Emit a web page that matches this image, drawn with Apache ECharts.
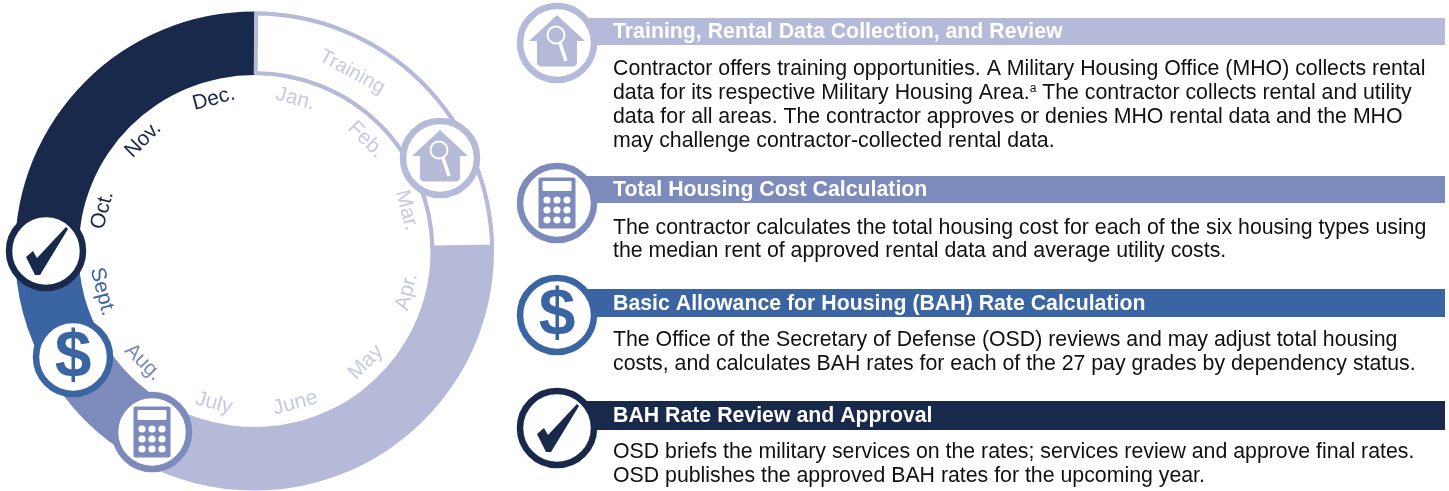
<!DOCTYPE html>
<html><head><meta charset="utf-8"><style>html,body{margin:0;padding:0;background:#fff}#c{width:1449px;height:491px}</style>
<script src="https://cdn.jsdelivr.net/npm/echarts@6/dist/echarts.min.js"></script></head>
<body><div id="c"></div><script>
const months = ['Jan.','Feb.','Mar.','Apr.','May','June','July','Aug.','Sept.','Oct.','Nov.','Dec.'];
const stages = ['Training','Rental data collection and review','Total housing cost calculation','BAH rate calculation','BAH rate review and approval'];
const stageMonths = [3,4,1,1,3];
const stageColors = ['#B5BAD9','#B5BAD9','#7C8BBC','#3A65A2','#19294B'];
const sectionTitles = ['Training, Rental Data Collection, and Review','Total Housing Cost Calculation','Basic Allowance for Housing (BAH) Rate Calculation','BAH Rate Review and Approval'];
const sectionBodies = [
 ['Contractor offers training opportunities. A Military Housing Office (MHO) collects rental','data for its respective Military Housing Area.{sup|a} The contractor collects rental and utility','data for all areas. The contractor approves or denies MHO rental data and the MHO','may challenge contractor-collected rental data.'],
 ['The contractor calculates the total housing cost for each of the six housing types using','the median rent of approved rental data and average utility costs.'],
 ['The Office of the Secretary of Defense (OSD) reviews and may adjust total housing','costs, and calculates BAH rates for each of the 27 pay grades by dependency status.'],
 ['OSD briefs the military services on the rates; services review and approve final rates.','OSD publishes the approved BAH rates for the upcoming year.']
];
const FONT='"Liberation Sans",Arial,sans-serif', Z=10;
const CX=254.5, CY=251;
const labelColors=[];
stageMonths.forEach((n,i)=>{for(let k=0;k<n;k++)labelColors.push(i<2?'#C6CAE3':i===2?'#7C8BBC':stageColors[i]);});

function ico(kind,x,y,color){
  const kids=[{type:'circle',z:Z,shape:{cx:0,cy:0,r:37},style:{fill:'#fff',stroke:color,lineWidth:6.5}}];
  if(kind==='house'){
    kids.push({type:'polygon',z:Z,shape:{points:[[0,-28],[28,-2],[20,-2],[20,21],[17,23.5],[-17,23.5],[-20,21],[-20,-2],[-28,-2]]},style:{fill:color}});
    kids.push({type:'line',z:Z+1,shape:{x1:3,y1:0,x2:9,y2:18},style:{stroke:'#fff',lineWidth:3.5}});
    kids.push({type:'circle',z:Z+1,shape:{cx:-1,cy:-8,r:8.5},style:{fill:color,stroke:'#fff',lineWidth:2}});
  } else if(kind==='calc'){
    kids.push({type:'rect',z:Z,shape:{x:-18.5,y:-25.5,width:37,height:51,r:2},style:{fill:color}});
    kids.push({type:'rect',z:Z+1,shape:{x:-14.5,y:-22,width:29,height:10,r:1},style:{fill:'#fff'}});
    [-3,7,17].forEach(r=>[-10,0,10].forEach(c=>kids.push({type:'circle',z:Z+1,shape:{cx:c,cy:r,r:3.6},style:{fill:'#fff'}})));
  } else if(kind==='dollar'){
    kids.push({type:'text',z:Z,style:{text:'$',x:0,y:2,fill:color,font:'bold 66px '+FONT,textAlign:'center',textVerticalAlign:'middle'}});
  } else {
    kids.push({type:'polygon',z:Z,shape:{points:[[-20,6],[-13,0],[-9,7],[20,-24],[22,-22],[-6,24],[-11,24]]},style:{fill:color}});
  }
  return {type:'group',x,y,children:kids};
}
const kinds=['house','calc','dollar','check'];
const sectionColors=['#B5BAD9','#7C8BBC','#3A65A2','#19294B'];
const bannerTop=[18,176,289,401], bannerH=[27,27,28,29], circleY=[43,203,315,428];
const bodyY=[[69,93,117,141],[228,251],[340,364],[452,476]];
const ringIcons=[[440,158],[152,432],[73,357],[46,251]];
const g=[];
g.push({type:'text',z:Z,rotation:-28.7*Math.PI/180,x:352,y:72,style:{text:'Training',fill:'#C6CAE3',font:'20px '+FONT,textAlign:'center',textVerticalAlign:'middle'}});
kinds.forEach((k,i)=>{
  g.push(ico(k,ringIcons[i][0],ringIcons[i][1],sectionColors[i]));
  g.push({type:'rect',z:Z-1,shape:{x:585,y:bannerTop[i],width:860,height:bannerH[i]},style:{fill:sectionColors[i]}});
  g.push(ico(k,557,circleY[i],sectionColors[i]));
  g.push({type:'text',z:Z,style:{text:sectionTitles[i],x:613,y:bannerTop[i]+bannerH[i]/2+1,fill:'#fff',font:'bold 21.3px '+FONT,textVerticalAlign:'middle'}});
  sectionBodies[i].forEach((t,j)=>g.push({type:'text',z:Z,style:{text:t,x:613,y:bodyY[i][j],fill:'#111',font:'21.3px '+FONT,textVerticalAlign:'middle',rich:{sup:{fontSize:12,fontFamily:FONT,fill:'#111',padding:[0,0,8,0]}}}}));
});
const chart=echarts.init(document.getElementById('c'),null,{renderer:'canvas'});
chart.setOption({
  animation:false,
  series:[
    {type:'pie',silent:true,center:[CX,CY],radius:[176,239.5],startAngle:90,clockwise:true,label:{show:false},labelLine:{show:false},z:2,
     data:stages.map((s,i)=>({name:s,value:stageMonths[i],itemStyle:{color:stageColors[i]}}))},
    {type:'pie',silent:true,center:[CX,CY],radius:[178,237.5],startAngle:89.6,clockwise:true,label:{show:false},labelLine:{show:false},z:3,
     data:[{name:'Training window',value:2.95,itemStyle:{color:'#fff',borderColor:'#B5BAD9',borderWidth:4}},{name:'rest',value:9.05,itemStyle:{color:'transparent'}}]},
    {type:'pie',silent:true,center:[CX,CY],radius:[144.5,164.5],startAngle:90,clockwise:true,labelLine:{show:false},z:4,
     label:{show:true,position:'inside',rotate:'tangential',fontFamily:FONT,fontSize:21},
     data:months.map((m,i)=>({name:m,value:1,itemStyle:{color:'transparent'},label:{color:labelColors[i]}}))}
  ],
  graphic:{elements:g}
});
</script></body></html>
